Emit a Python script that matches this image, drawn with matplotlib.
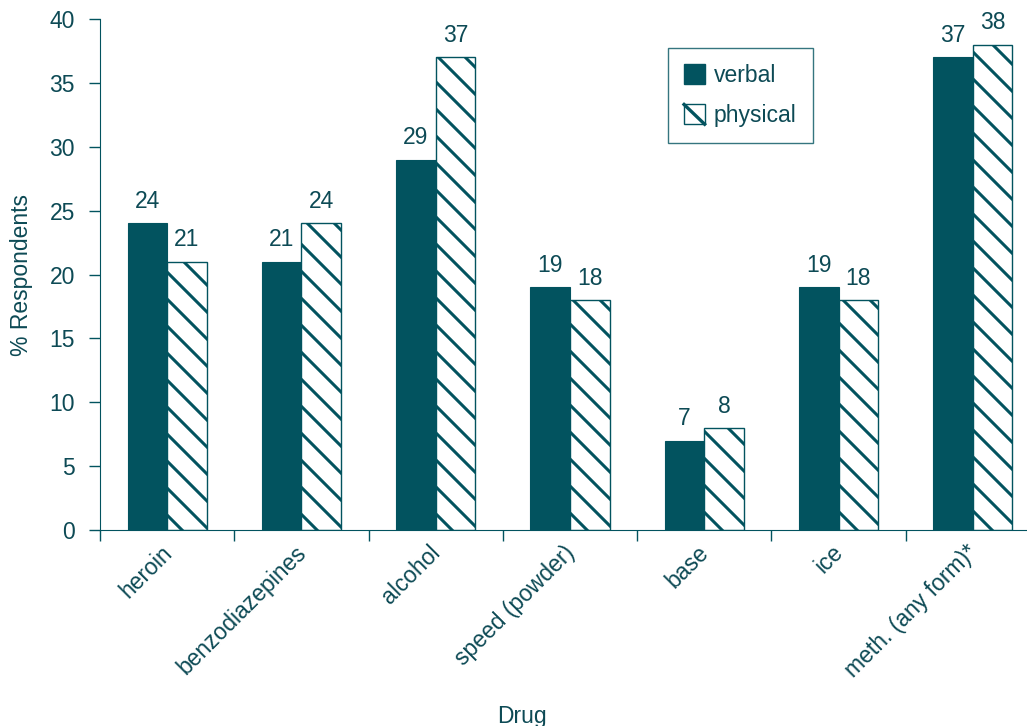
import numpy as np
import matplotlib
matplotlib.use('Agg')
import matplotlib.pyplot as plt
from matplotlib.patches import Patch, Rectangle
from matplotlib.lines import Line2D
from matplotlib.legend_handler import HandlerPatch
from matplotlib.transforms import ScaledTranslation

plt.rcParams['font.family'] = ['Liberation Sans', 'DejaVu Sans']

drugs = ["heroin", "benzodiazepines", "alcohol", "speed (powder)", "base", "ice", "meth. (any form)*"]
verbal = [24, 21, 29, 19, 7, 19, 37]
physical = [21, 24, 37, 18, 8, 18, 38]

teal = '#02535F'
txt = '#0D4A55'
fs = 16.5

fig = plt.figure(figsize=(10.27, 7.26), dpi=100)
ax = fig.add_axes([100/1027, 1-530/726, 940/1027, 511/726])

x = np.arange(len(drugs))
w = 0.295
ax.set_xlim(-0.5, len(drugs)-0.5)
ax.set_ylim(0, 40)

b1 = ax.bar(x - w/2, verbal, w, color=teal, edgecolor=teal, linewidth=0.8, zorder=2)
b2 = ax.bar(x + w/2, physical, w, color='white', edgecolor=teal, linewidth=1.0, zorder=2)

# hand made hatch so the spacing matches (matplotlib hatch is too dense)
inv = ax.transData.inverted()
step = 27
for bar in b2:
    (px0, py0), (px1, py1) = ax.transData.transform(
        [(bar.get_x(), 0), (bar.get_x() + bar.get_width(), bar.get_height())])
    c = np.floor((px0 + py0) / step) * step
    while c <= px1 + py1 + step:
        pts = inv.transform([(px0 - 5, c - px0 + 5), (px1 + 5, c - px1 - 5)])
        ln, = ax.plot(pts[:, 0], pts[:, 1], color=teal, lw=2.2,
                      solid_capstyle='butt', zorder=2.5, scalex=False, scaley=False)
        ln.set_clip_path(bar)
        c += step

for bars, vals in [(b1, verbal), (b2, physical)]:
    for bar, v in zip(bars, vals):
        ax.annotate(str(v), (bar.get_x() + bar.get_width()/2, v), xytext=(0, 11),
                    textcoords='offset points', ha='center', va='baseline',
                    fontsize=fs, color=txt)

ax.spines['top'].set_visible(False)
ax.spines['right'].set_visible(False)
ax.spines['left'].set_color(teal)
ax.spines['bottom'].set_color(teal)

ax.set_yticks(range(0, 41, 5))
ax.tick_params(axis='y', colors=teal, labelcolor=txt, labelsize=fs, length=8, width=1, pad=10)
ax.set_xticks(np.arange(-0.5, len(drugs)), minor=False)
ax.set_xticklabels([])
ax.set_xticks(x, minor=True)
ax.set_xticklabels(drugs, minor=True, rotation=45, ha='right', va='top',
                   rotation_mode='anchor', fontsize=fs, color=txt)
ax.tick_params(axis='x', which='major', colors=teal, length=8, width=1)
ax.tick_params(axis='x', which='minor', length=0, pad=10)
shift = ScaledTranslation(-7/100, 3/100, fig.dpi_scale_trans)
for lab in ax.get_xticklabels(minor=True):
    lab.set_transform(lab.get_transform() + shift)

ax.set_ylabel('% Respondents', fontsize=fs, color=txt, va='center')
ax.yaxis.set_label_coords(-0.083, 0.5)
ax.set_xlabel('Drug', fontsize=fs, color=txt, va='top')
ax.xaxis.set_label_coords(0.449, -0.342)


class HatchHandler(HandlerPatch):
    def create_artists(self, legend, orig_handle, xdescent, ydescent, width, height, fontsize, trans):
        r = Rectangle((-xdescent, -ydescent), width, height, facecolor='white',
                      edgecolor=teal, lw=1, transform=trans)
        l = Line2D([-xdescent, -xdescent + width], [-ydescent + height, -ydescent],
                   color=teal, lw=2.4, transform=trans)
        return [r, l]


h_verbal = Patch(facecolor=teal, edgecolor=teal)
h_phys = Patch(facecolor='white', edgecolor=teal)
leg = ax.legend([h_verbal, h_phys], ['verbal', 'physical'], loc='upper left',
                bbox_to_anchor=(668/1027, 1-48/726), bbox_transform=fig.transFigure,
                borderaxespad=0, fontsize=fs, fancybox=False, handlelength=0.9,
                handleheight=0.95, handletextpad=0.4, labelspacing=0.75, borderpad=0.7,
                labelcolor=txt, handler_map={h_phys: HatchHandler()})
leg.get_frame().set_edgecolor(teal)
leg.get_frame().set_linewidth(1.0)

fig.savefig('out.png', dpi=100)
